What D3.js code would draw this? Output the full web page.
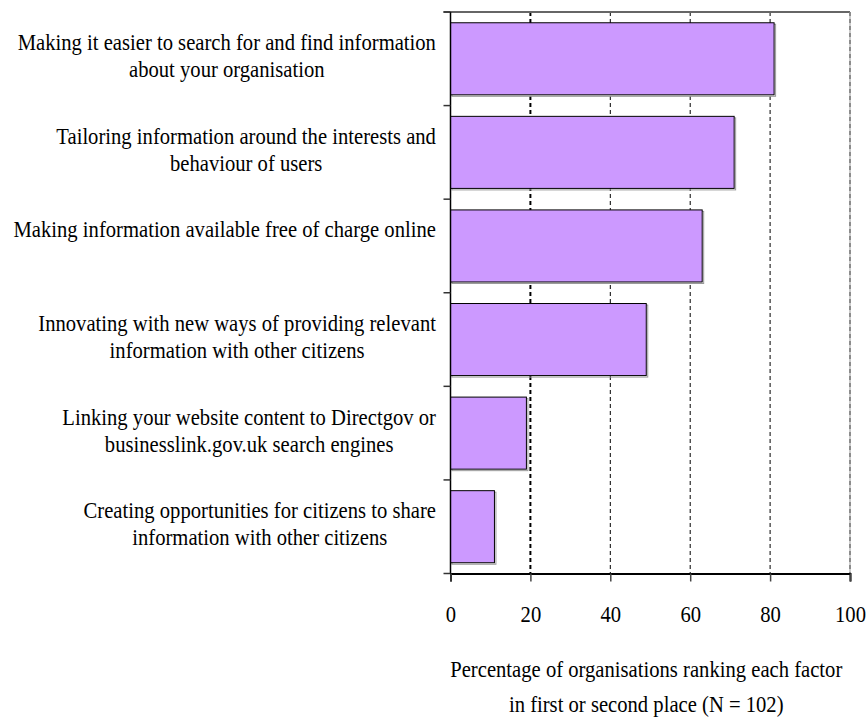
<!DOCTYPE html>
<html>
<head>
<meta charset="utf-8">
<script src="https://cdn.jsdelivr.net/npm/d3@7"></script>
<style>
  html, body { margin: 0; padding: 0; background: #fff; }
  svg text { font-family: "Liberation Serif", "Times New Roman", serif; fill: #000; }
</style>
</head>
<body>
<svg id="chart" width="867" height="717"></svg>
<script>
// Factors, each wrapped onto display lines
const factorLines = [
  ["Making it easier to search for and find information", "about your organisation"],
  ["Tailoring information around the interests and", "behaviour of users"],
  ["Making information available free of charge online", ""],
  ["Innovating with new ways of providing relevant", "information with other citizens"],
  ["Linking your website content to Directgov or", "businesslink.gov.uk search engines"],
  ["Creating opportunities for citizens to share", "information with other citizens"]
];
// Percentage ranking each factor in first or second place
const percentages = [81, 71, 63, 49, 19, 11];
const xTicks = [0, 20, 40, 60, 80, 100];
const axisTitleLines = ["Percentage of organisations ranking each factor", "in first or second place (N = 102)"];

const svg = d3.select("#chart");
const plotLeft = 450.5, plotRight = 850, plotTop = 12, plotBottom = 573.5;
const fontSize = 24, squeeze = 0.86;

const ids = d3.range(factorLines.length);
const x = d3.scaleLinear().domain([0, 100]).range([plotLeft, plotRight]);
const y = d3.scaleBand().domain(ids).range([plotTop, plotBottom]).paddingInner(0.23).paddingOuter(0.115);

// Gridlines
svg.append("g").selectAll("line").data(xTicks.filter(d => d > 0)).join("line")
  .attr("x1", d => x(d)).attr("x2", d => x(d))
  .attr("y1", plotTop).attr("y2", plotBottom)
  .attr("stroke", "#000")
  .attr("stroke-width", d => d === 20 ? 2 : 1)
  .attr("stroke-dasharray", "4,3");

// Frame top and right
svg.append("line").attr("x1", plotLeft - 7).attr("x2", plotRight).attr("y1", plotTop).attr("y2", plotTop)
  .attr("stroke", "#666").attr("stroke-width", 2);
svg.append("line").attr("x1", plotRight).attr("x2", plotRight).attr("y1", plotTop).attr("y2", plotBottom)
  .attr("stroke", "#999").attr("stroke-width", 1);

// Bars with a light drop shadow
const bars = svg.append("g");
bars.selectAll("rect.shadow").data(ids).join("rect").attr("class", "shadow")
  .attr("x", x(0) + 1.5).attr("y", d => y(d) + 1.5)
  .attr("width", d => x(percentages[d]) - x(0)).attr("height", y.bandwidth())
  .attr("fill", "none").attr("stroke", "#999").attr("stroke-width", 1);
bars.selectAll("rect.bar").data(ids).join("rect").attr("class", "bar")
  .attr("x", x(0)).attr("y", d => y(d))
  .attr("width", d => x(percentages[d]) - x(0)).attr("height", y.bandwidth())
  .attr("fill", "#cc99ff").attr("stroke", "#000").attr("stroke-width", 1);

// Category axis: line plus ticks at band boundaries
const bounds = ids.map(d => y(d) - y.step() * y.paddingInner() / 2).concat([plotBottom]);
bounds[0] = plotTop;
svg.append("line").attr("x1", plotLeft).attr("x2", plotLeft).attr("y1", plotTop).attr("y2", plotBottom)
  .attr("stroke", "#000").attr("stroke-width", 1.5);
svg.append("g").selectAll("line").data(bounds).join("line")
  .attr("x1", plotLeft - 7).attr("x2", plotLeft).attr("y1", d => d).attr("y2", d => d)
  .attr("stroke", "#333").attr("stroke-width", 1.5);

// Value axis
const xAxis = svg.append("g").attr("transform", `translate(0,${plotBottom})`)
  .call(d3.axisBottom(x).tickValues(xTicks).tickSize(8).tickPadding(0).tickFormat(d3.format("d")));
xAxis.select(".domain").attr("stroke", "#000").attr("stroke-width", 2);
xAxis.selectAll(".tick line").attr("stroke", "#444").attr("stroke-width", 1.5);
xAxis.selectAll(".tick text").remove();
xAxis.selectAll(".tick").append("text")
  .attr("transform", `translate(0,48) scale(${squeeze},1)`)
  .attr("text-anchor", "middle").attr("font-size", fontSize).attr("fill", "#000")
  .style("font-family", "'Liberation Serif', serif")
  .text(d => d);

// Category labels: each block right-aligned, lines centred within it
const labelRight = 436, lineGap = 27;
ids.forEach(i => {
  const g = svg.append("g");
  const lines = factorLines[i];
  const texts = lines.map((s, k) => g.append("text")
    .attr("font-size", fontSize).attr("text-anchor", "middle").text(s));
  const widths = texts.map(t => t.node().getComputedTextLength() * squeeze);
  const blockW = d3.max(widths);
  const cx = labelRight - blockW / 2;
  const cy = y(i) + y.bandwidth() / 2;
  const firstBase = cy - (lines.length - 1) * lineGap / 2 - 3 + fontSize * 0.33;
  texts.forEach((t, k) => t.attr("transform", `translate(${cx},${firstBase + k * lineGap}) scale(${squeeze},1)`));
});

// Axis title
const titleCx = (plotLeft + plotRight) / 2 - 4;
axisTitleLines.forEach((s, k) => {
  svg.append("text").attr("font-size", fontSize).attr("text-anchor", "middle")
    .attr("transform", `translate(${titleCx},${677 + k * 35}) scale(${squeeze},1)`)
    .text(s);
});
</script>
</body>
</html>
